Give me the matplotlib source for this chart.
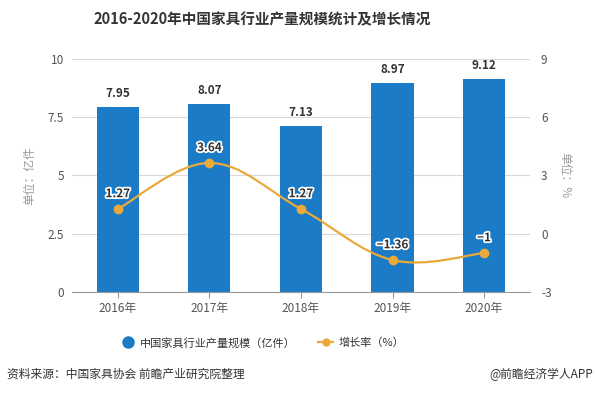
import matplotlib
matplotlib.use('Agg')
import matplotlib.pyplot as plt
import matplotlib.patheffects as pe
from matplotlib.path import Path
from matplotlib.patches import PathPatch
from matplotlib.lines import Line2D
import numpy as np

plt.rcParams['font.family'] = ['Noto Sans CJK SC', 'DejaVu Sans']

years = ['2016年', '2017年', '2018年', '2019年', '2020年']
output = [7.95, 8.07, 7.13, 8.97, 9.12]
growth = [1.27, 3.64, 1.27, -1.36, -1]
growth_labels = ['1.27', '3.64', '1.27', '\u22121.36', '\u22121']
left_ticks = [0, 2.5, 5, 7.5, 10]
left_tick_labels = ['0', '2.5', '5', '7.5', '10']
right_ticks = [-3, 0, 3, 6, 9]
right_tick_labels = ['-3', '0', '3', '6', '9']

bar_c = '#1b7bc6'
line_c = '#e9aa3b'
grid_c = '#d9d9d9'
txt_c = '#555555'

fig = plt.figure(figsize=(5.96, 3.95), dpi=100)
ax = fig.add_axes([0.121, 0.261, 0.768, 0.59])
ax2 = ax.twinx()

x = np.arange(len(years))
ax.bar(x, output, width=0.46, color=bar_c, zorder=2)
for xi, v in zip(x, output):
    ax.text(xi, v + 0.3, '%.2f' % v, ha='center', va='bottom', fontsize=8.5,
            fontweight='bold', color='#333333', zorder=5)

ax.set_xlim(-0.5, len(years) - 0.5)
ax.set_ylim(0, 10)
ax.set_yticks(left_ticks)
ax.set_yticklabels(left_tick_labels)
ax.set_xticks(x)
ax.set_xticklabels(years)
ax.yaxis.grid(True, color=grid_c, linewidth=0.8, zorder=0)
ax.set_axisbelow(True)
for s in ['top', 'right', 'left']:
    ax.spines[s].set_visible(False)
ax.spines['bottom'].set_color('#999999')
ax.tick_params(axis='y', length=0, labelsize=8.5, labelcolor=txt_c, pad=6)
ax.tick_params(axis='x', length=4, color='#999999', labelsize=8.5,
               labelcolor=txt_c, pad=3)
ax.set_ylabel('单位：亿件', fontsize=8.5, color='#999999', labelpad=8)

ax2.set_ylim(-3, 9)
ax2.set_yticks(right_ticks)
ax2.set_yticklabels(right_tick_labels)
for s in ['top', 'right', 'left', 'bottom']:
    ax2.spines[s].set_visible(False)
ax2.tick_params(axis='y', length=0, labelsize=8.5, labelcolor=txt_c, pad=8)
ax2.set_ylabel('单位：%', fontsize=8.5, color='#999999', rotation=-90,
               labelpad=14)

# smooth curve through the growth points (cubic bezier segments)
pts = np.column_stack([x, growth]).astype(float)
k = 0.18
verts = [pts[0]]
codes = [Path.MOVETO]
n = len(pts)
for i in range(n - 1):
    p0 = pts[max(i - 1, 0)]
    p1 = pts[i]
    p2 = pts[i + 1]
    p3 = pts[min(i + 2, n - 1)]
    c1 = p1 + (p2 - p0) * k
    c2 = p2 - (p3 - p1) * k
    verts += [c1, c2, p2]
    codes += [Path.CURVE4] * 3
curve = PathPatch(Path(verts, codes), facecolor='none', edgecolor=line_c,
                  linewidth=1.6, zorder=3)
ax2.add_patch(curve)
ax2.plot(x, growth, 'o', color=line_c, markersize=6, zorder=4)
for xi, v, lab in zip(x, growth, growth_labels):
    ax2.text(xi, v + 0.45, lab, ha='center', va='bottom', fontsize=8.5,
             fontweight='bold', color='#333333', zorder=6,
             path_effects=[pe.withStroke(linewidth=2.5, foreground='white')])

fig.text(0.44, 0.952, '2016-2020年中国家具行业产量规模统计及增长情况',
         ha='center', va='center', fontsize=10.5, fontweight='bold',
         color='#333333')

handles = [
    Line2D([], [], marker='o', color='none', markerfacecolor=bar_c,
           markeredgecolor=bar_c, markersize=8),
    Line2D([], [], marker='o', color=line_c, markersize=5, linewidth=1.6),
]
fig.legend(handles, ['中国家具行业产量规模（亿件）', '增长率（%）'],
           loc='center', bbox_to_anchor=(0.44, 0.132), ncol=2, frameon=False,
           fontsize=8, handlelength=1.3, handletextpad=0.5,
           columnspacing=2.0, labelcolor='#333333')

fig.text(0.012, 0.052, '资料来源：中国家具协会 前瞻产业研究院整理', ha='left',
         va='center', fontsize=8.5, color='#333333')
fig.text(0.995, 0.052, '@前瞻经济学人APP', ha='right', va='center',
         fontsize=8.5, color='#333333')

fig.savefig('out.png', dpi=100)
